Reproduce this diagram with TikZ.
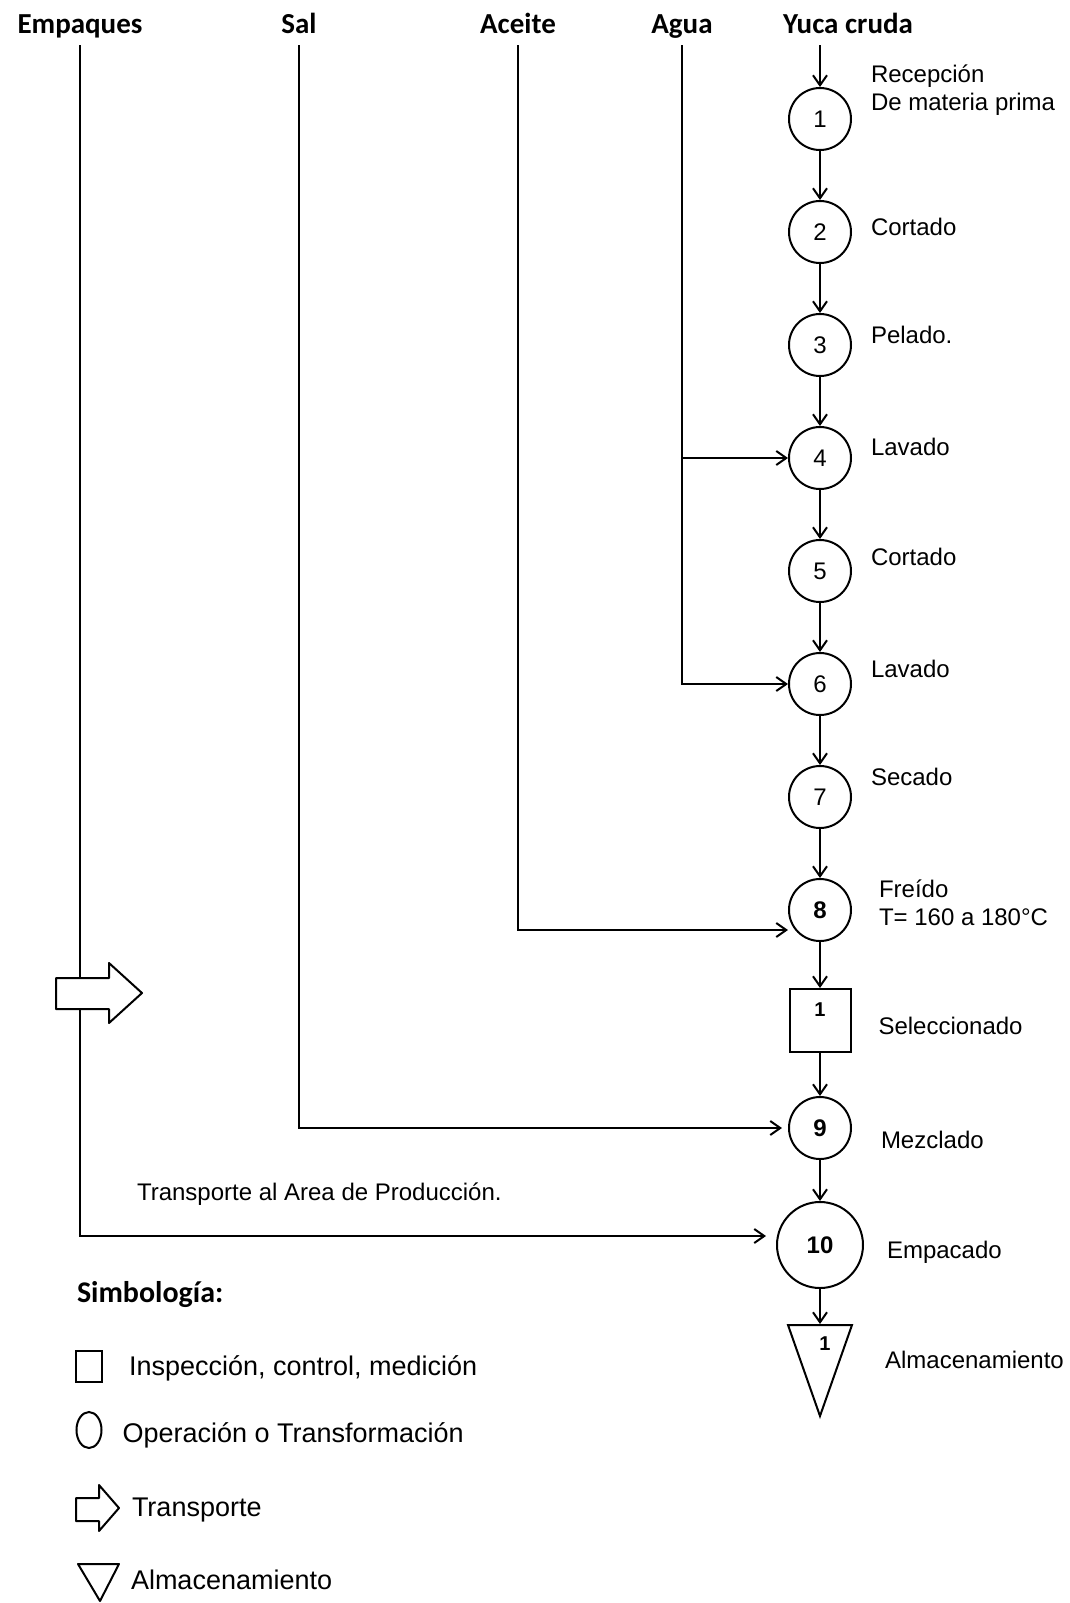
\documentclass[tikz,border=0pt]{standalone}
\usepackage{fontspec}
\setmainfont{Liberation Sans}
\newfontfamily\headfont{Carlito}
\usetikzlibrary{positioning,arrows.meta,shapes.geometric}

\begin{document}
\begin{tikzpicture}[x=0.5pt, y=-0.5pt, line width=1pt,
  >={Straight Barb[length=5pt,width=7pt]},
  node distance=24.5pt and 8pt,
  op/.style={draw, circle, minimum size=31pt, inner sep=0pt, font=\fontsize{12}{12}\selectfont},
  insp/.style={draw, minimum width=30.5pt, minimum height=31.5pt, inner sep=0pt},
  alm/.style={draw, isosceles triangle, isosceles triangle apex angle=39,
    shape border rotate=270, isosceles triangle stretches,
    minimum width=32pt, minimum height=45.5pt, inner sep=0pt},
  head/.style={font=\headfont\bfseries\fontsize{14.5}{15}\selectfont, text height=0.75em, text depth=0.2em},
  lbl/.style={font=\fontsize{12}{14}\selectfont, align=left, inner sep=1pt},
  leg/.style={font=\fontsize{13.5}{15}\selectfont, inner sep=1pt}]
  \useasboundingbox (0,0) rectangle (1070,1603);

  % materias primas
  \node[head] (emp)    at (80,28)  {Empaques};
  \node[head] (sal)    at (299,28) {Sal};
  \node[head] (aceite) at (518,28) {Aceite};
  \node[head] (agua)   at (682,28) {Agua};
  \node[head] (yuca)   at (848,28) {Yuca cruda};

  % proceso
  \node[op] (op1) at (820,119) {1};
  \node[op, below=of op1] (op2) {2};
  \node[op, below=of op2] (op3) {3};
  \node[op, below=of op3] (op4) {4};
  \node[op, below=of op4] (op5) {5};
  \node[op, below=of op5] (op6) {6};
  \node[op, below=of op6] (op7) {7};
  \node[op, below=of op7] (op8) {\textbf{8}};
  \node[insp, below=23pt of op8, label={[anchor=center, yshift=-11pt]north:\textbf{1}}] (sel) {};
  \node[op, below=21.5pt of sel] (op9) {\textbf{9}};
  \node[op, minimum size=43pt, below=20.5pt of op9] (op10) {\textbf{10}};
  \node[alm, below=17.5pt of op10, label={[anchor=center, xshift=2.5pt, yshift=-10pt]north:\textbf{1}}] (alm1) {};

  \node[lbl, right=of op1, yshift=14.5pt] (t1) {Recepción\\De materia prima};
  \node[lbl, right=of op2, yshift=2.5pt]  (t2) {Cortado};
  \node[lbl, right=of op3, yshift=5pt]    (t3) {Pelado.};
  \node[lbl, right=of op4, yshift=5.5pt]  (t4) {Lavado};
  \node[lbl, right=of op5, yshift=7pt]    (t5) {Cortado};
  \node[lbl, right=of op6, yshift=7.5pt]  (t6) {Lavado};
  \node[lbl, right=of op7, yshift=10pt]   (t7) {Secado};
  \node[lbl, right=12pt of op8, yshift=3.5pt] (t8) {Freído\\T= 160 a 180°C};
  \node[lbl, right=12pt of sel, yshift=-2.5pt] (tsel) {Seleccionado};
  \node[lbl, right=13pt of op9, yshift=-6pt]   (t9) {Mezclado};
  \node[lbl, right=10pt of op10, yshift=-3.5pt] (t10) {Empacado};
  \node[lbl, right=18.5pt of alm1, yshift=-6pt] (talm) {Almacenamiento};

  \draw[->] (yuca.south -| op1) -- (op1);
  \draw[->] (op1) -- (op2);
  \draw[->] (op2) -- (op3);
  \draw[->] (op3) -- (op4);
  \draw[->] (op4) -- (op5);
  \draw[->] (op5) -- (op6);
  \draw[->] (op6) -- (op7);
  \draw[->] (op7) -- (op8);
  \draw[->] (op8) -- (sel);
  \draw[->] (sel) -- (op9);
  \draw[->] (op9) -- (op10);
  \draw[->] (op10) -- (alm1);

  % entradas laterales
  \draw[->] (agua.south) |- (op6);
  \draw[->] (agua.south |- op4) -- (op4);
  \draw[->] (aceite.south) |- ([yshift=-10pt]op8.west);
  \draw[->] (sal.south) |- ([xshift=-3pt]op9.west);
  \draw[->] (emp.south) |- ([yshift=4.5pt, xshift=-5pt]op10.west);
  \draw[fill=white, line join=round] (56,978) -- (109,978) -- (109,963) -- (142,993)
    -- (109,1023) -- (109,1009) -- (56,1009) -- cycle;
  \node[lbl, anchor=west] (trans) at (134,1194) {Transporte al Area de Producción.};

  % simbologia
  \node[head, font=\headfont\bfseries\fontsize{15}{16}\selectfont, anchor=west, inner sep=0pt] (simb) at (76,1297) {Simbología:};
  \node[draw, minimum width=13pt, minimum height=15.5pt, inner sep=0pt] (lgI) at (89,1366) {};
  \node[leg, right=11.5pt of lgI, yshift=-1pt] (lgIt) {Inspección, control, medición};
  \node[draw, ellipse, minimum width=12.5pt, minimum height=18pt, inner sep=0pt] (lgO) at (89,1430) {};
  \node[leg, right=8.5pt of lgO, yshift=-2.5pt] (lgOt) {Operación o Transformación};
  \draw[line join=round] (76,1498) -- (99,1498) -- (99,1485) -- (119,1508)
    -- (99,1531) -- (99,1521) -- (76,1521) -- cycle;
  \node[leg, anchor=west] (lgTt) at (129,1510) {Transporte};
  \draw[line join=round] (78,1564) -- (119,1564) -- (100,1601) -- cycle;
  \node[leg, anchor=west] (lgAt) at (128,1580) {Almacenamiento};
\end{tikzpicture}
\end{document}
